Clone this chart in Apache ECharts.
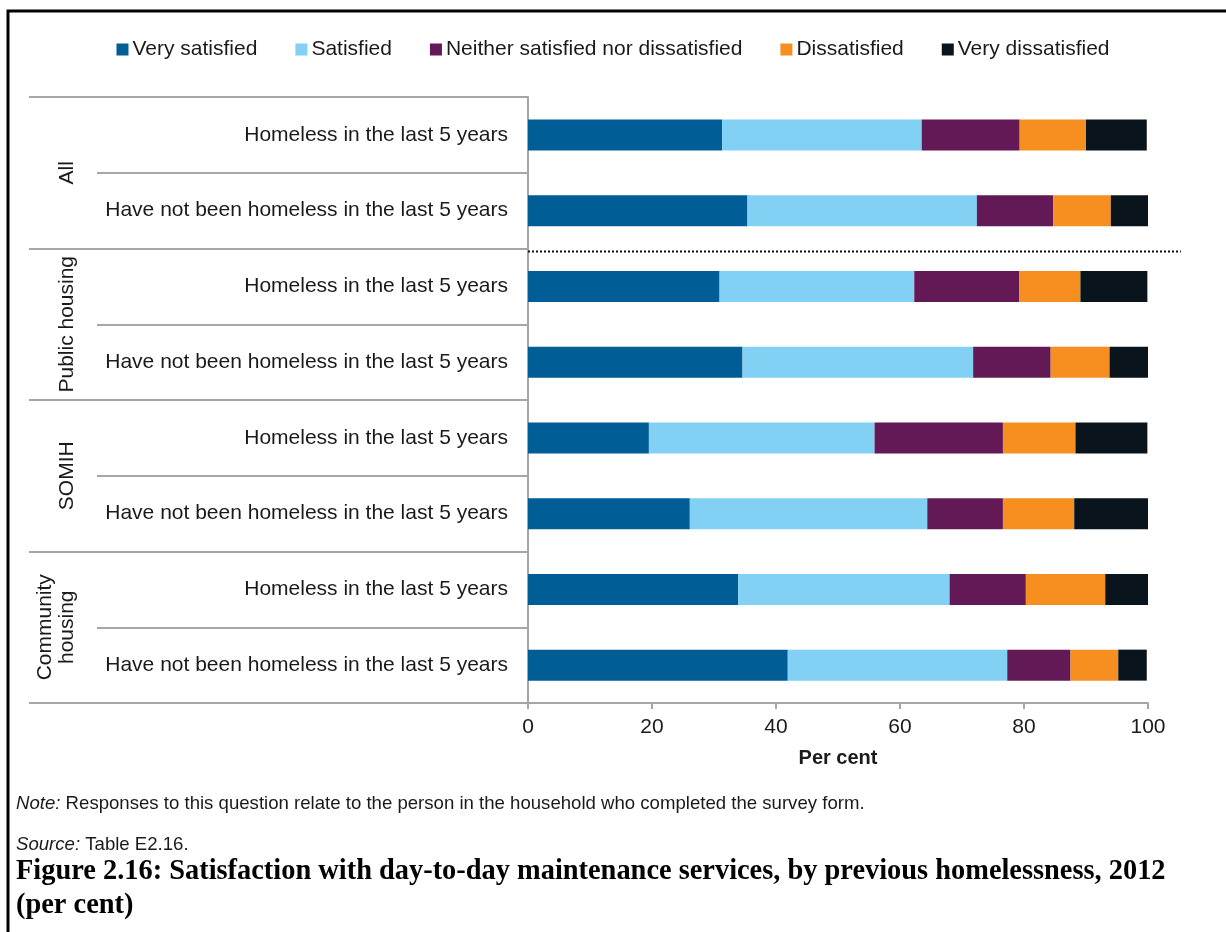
<!DOCTYPE html>
<html>
<head>
<meta charset="utf-8">
<script src="https://cdn.jsdelivr.net/npm/echarts@6/dist/echarts.min.js"></script>
<style>
  html, body { margin: 0; padding: 0; background: #fff; }
  #chart { width: 1226px; height: 932px; }
</style>
</head>
<body>
<div id="chart"></div>
<script>
// Housing groups (outer axis) and the two homelessness categories within each group
const groups = ['All', 'Public housing', 'SOMIH', 'Community\nhousing'];
const categories = [
  'Homeless in the last 5 years', 'Have not been homeless in the last 5 years',
  'Homeless in the last 5 years', 'Have not been homeless in the last 5 years',
  'Homeless in the last 5 years', 'Have not been homeless in the last 5 years',
  'Homeless in the last 5 years', 'Have not been homeless in the last 5 years'
];
const seriesNames = ['Very satisfied', 'Satisfied', 'Neither satisfied nor dissatisfied', 'Dissatisfied', 'Very dissatisfied'];

// Per cent of respondents, one value per category row
const verySatisfied    = [31.3, 35.4, 30.9, 34.6, 19.5, 26.1, 33.9, 41.9];
const satisfied        = [32.2, 37.0, 31.4, 37.2, 36.4, 38.3, 34.1, 35.4];
const neither          = [15.8, 12.3, 16.9, 12.5, 20.7, 12.2, 12.3, 10.2];
const dissatisfied     = [10.7,  9.3,  9.9,  9.5, 11.7, 11.5, 12.8,  7.7];
const veryDissatisfied = [ 9.8,  6.0, 10.8,  6.2, 11.6, 11.9,  6.9,  4.6];

const xTicks = [0, 20, 40, 60, 80, 100];

const colors = ['#005D95', '#82D1F5', '#621955', '#F68F20', '#0A141C'];
const values = [verySatisfied, satisfied, neither, dissatisfied, veryDissatisfied];

const FONT = '"Liberation Sans", Arial, sans-serif';
const TEXT = '#1a1a1a';
const GRID_LINE = '#a6a6a6';
const FS = 21;

const chart = echarts.init(document.getElementById('chart'), null, { renderer: 'canvas' });

const option = {
  animation: false,
  backgroundColor: '#fff',
  textStyle: { fontFamily: FONT, color: TEXT },
  color: colors,
  legend: {
    data: seriesNames,
    top: 34,
    left: 'center',
    itemWidth: 12,
    itemHeight: 12,
    itemGap: 38,
    icon: 'rect',
    textStyle: { fontSize: FS, color: TEXT, fontFamily: FONT, padding: [0, 0, 0, -1] }
  },
  grid: { left: 528, right: 78, top: 97, bottom: 229, containLabel: false },
  xAxis: {
    type: 'value',
    min: xTicks[0],
    max: xTicks[xTicks.length - 1],
    interval: 20,
    splitLine: { show: false },
    axisLine: { show: true, lineStyle: { color: GRID_LINE, width: 2 } },
    axisTick: { show: true, length: 6, lineStyle: { color: GRID_LINE, width: 2 } },
    axisLabel: { fontSize: FS, color: TEXT, margin: 14, fontFamily: FONT },
    name: 'Per cent',
    nameLocation: 'middle',
    nameGap: 45,
    nameTextStyle: { fontSize: 20, fontWeight: 'bold', color: TEXT, fontFamily: FONT }
  },
  yAxis: [
    {
      type: 'category',
      data: categories,
      inverse: true,
      position: 'left',
      axisLine: { show: true, lineStyle: { color: GRID_LINE, width: 2 } },
      axisTick: { show: true, interval: 0, length: 431, lineStyle: { color: GRID_LINE, width: 2 } },
      axisLabel: { fontSize: FS, color: TEXT, margin: 20, fontFamily: FONT, interval: 0, padding: [4, 0, 0, 0] }
    },
    {
      type: 'category',
      data: groups,
      inverse: true,
      position: 'left',
      axisLine: { show: false },
      axisTick: { show: true, interval: 0, length: 499, lineStyle: { color: GRID_LINE, width: 2 } },
      axisLabel: {
        rotate: 90, margin: 450, fontSize: FS, lineHeight: 22,
        color: TEXT, fontFamily: FONT, interval: 0
      }
    }
  ],
  series: seriesNames.map((name, i) => ({
    name,
    type: 'bar',
    stack: 'total',
    yAxisIndex: 0,
    barWidth: 31,
    data: values[i],
    itemStyle: { color: colors[i] }
  }))
};

chart.setOption(option);

// Dotted separator between the "All" group and the housing programs,
// plus the figure frame, notes and caption
function drawExtras() {
  const yA = chart.convertToPixel({ yAxisIndex: 0 }, 1);
  const yB = chart.convertToPixel({ yAxisIndex: 0 }, 2);
  const ySep = (yA + yB) / 2 + 3;
  const x0 = chart.convertToPixel({ xAxisIndex: 0 }, 0);
  const x1 = chart.convertToPixel({ xAxisIndex: 0 }, 105.3);

  chart.setOption({
    graphic: [
      {
        type: 'rect', silent: true, z: 100,
        shape: { x: 8, y: 11, width: 1400, height: 1200 },
        style: { fill: 'none', stroke: '#000', lineWidth: 3 }
      },
      {
        type: 'line', silent: true, z: 50,
        shape: { x1: x0, y1: ySep, x2: x1, y2: ySep },
        style: { stroke: '#111', lineWidth: 2, lineDash: [2, 2] }
      },
      {
        type: 'text', left: 16, top: 794, silent: true,
        style: {
          text: '{i|Note:} Responses to this question relate to the person in the household who completed the survey form.',
          font: '18.6px ' + FONT, fill: TEXT,
          rich: { i: { fontStyle: 'italic', fontSize: 18.6, fontFamily: FONT, fill: TEXT } }
        }
      },
      {
        type: 'text', left: 16, top: 835, silent: true,
        style: {
          text: '{i|Source:} Table E2.16.',
          font: '18.6px ' + FONT, fill: TEXT,
          rich: { i: { fontStyle: 'italic', fontSize: 18.6, fontFamily: FONT, fill: TEXT } }
        }
      },
      {
        type: 'text', left: 16, top: 855, silent: true,
        style: {
          text: 'Figure 2.16: Satisfaction with day-to-day maintenance services, by previous homelessness, 2012\n(per cent)',
          font: 'bold 28.4px "Liberation Serif", "Times New Roman", serif',
          lineHeight: 34, fill: '#000'
        }
      }
    ]
  });
}
drawExtras();
</script>
</body>
</html>
